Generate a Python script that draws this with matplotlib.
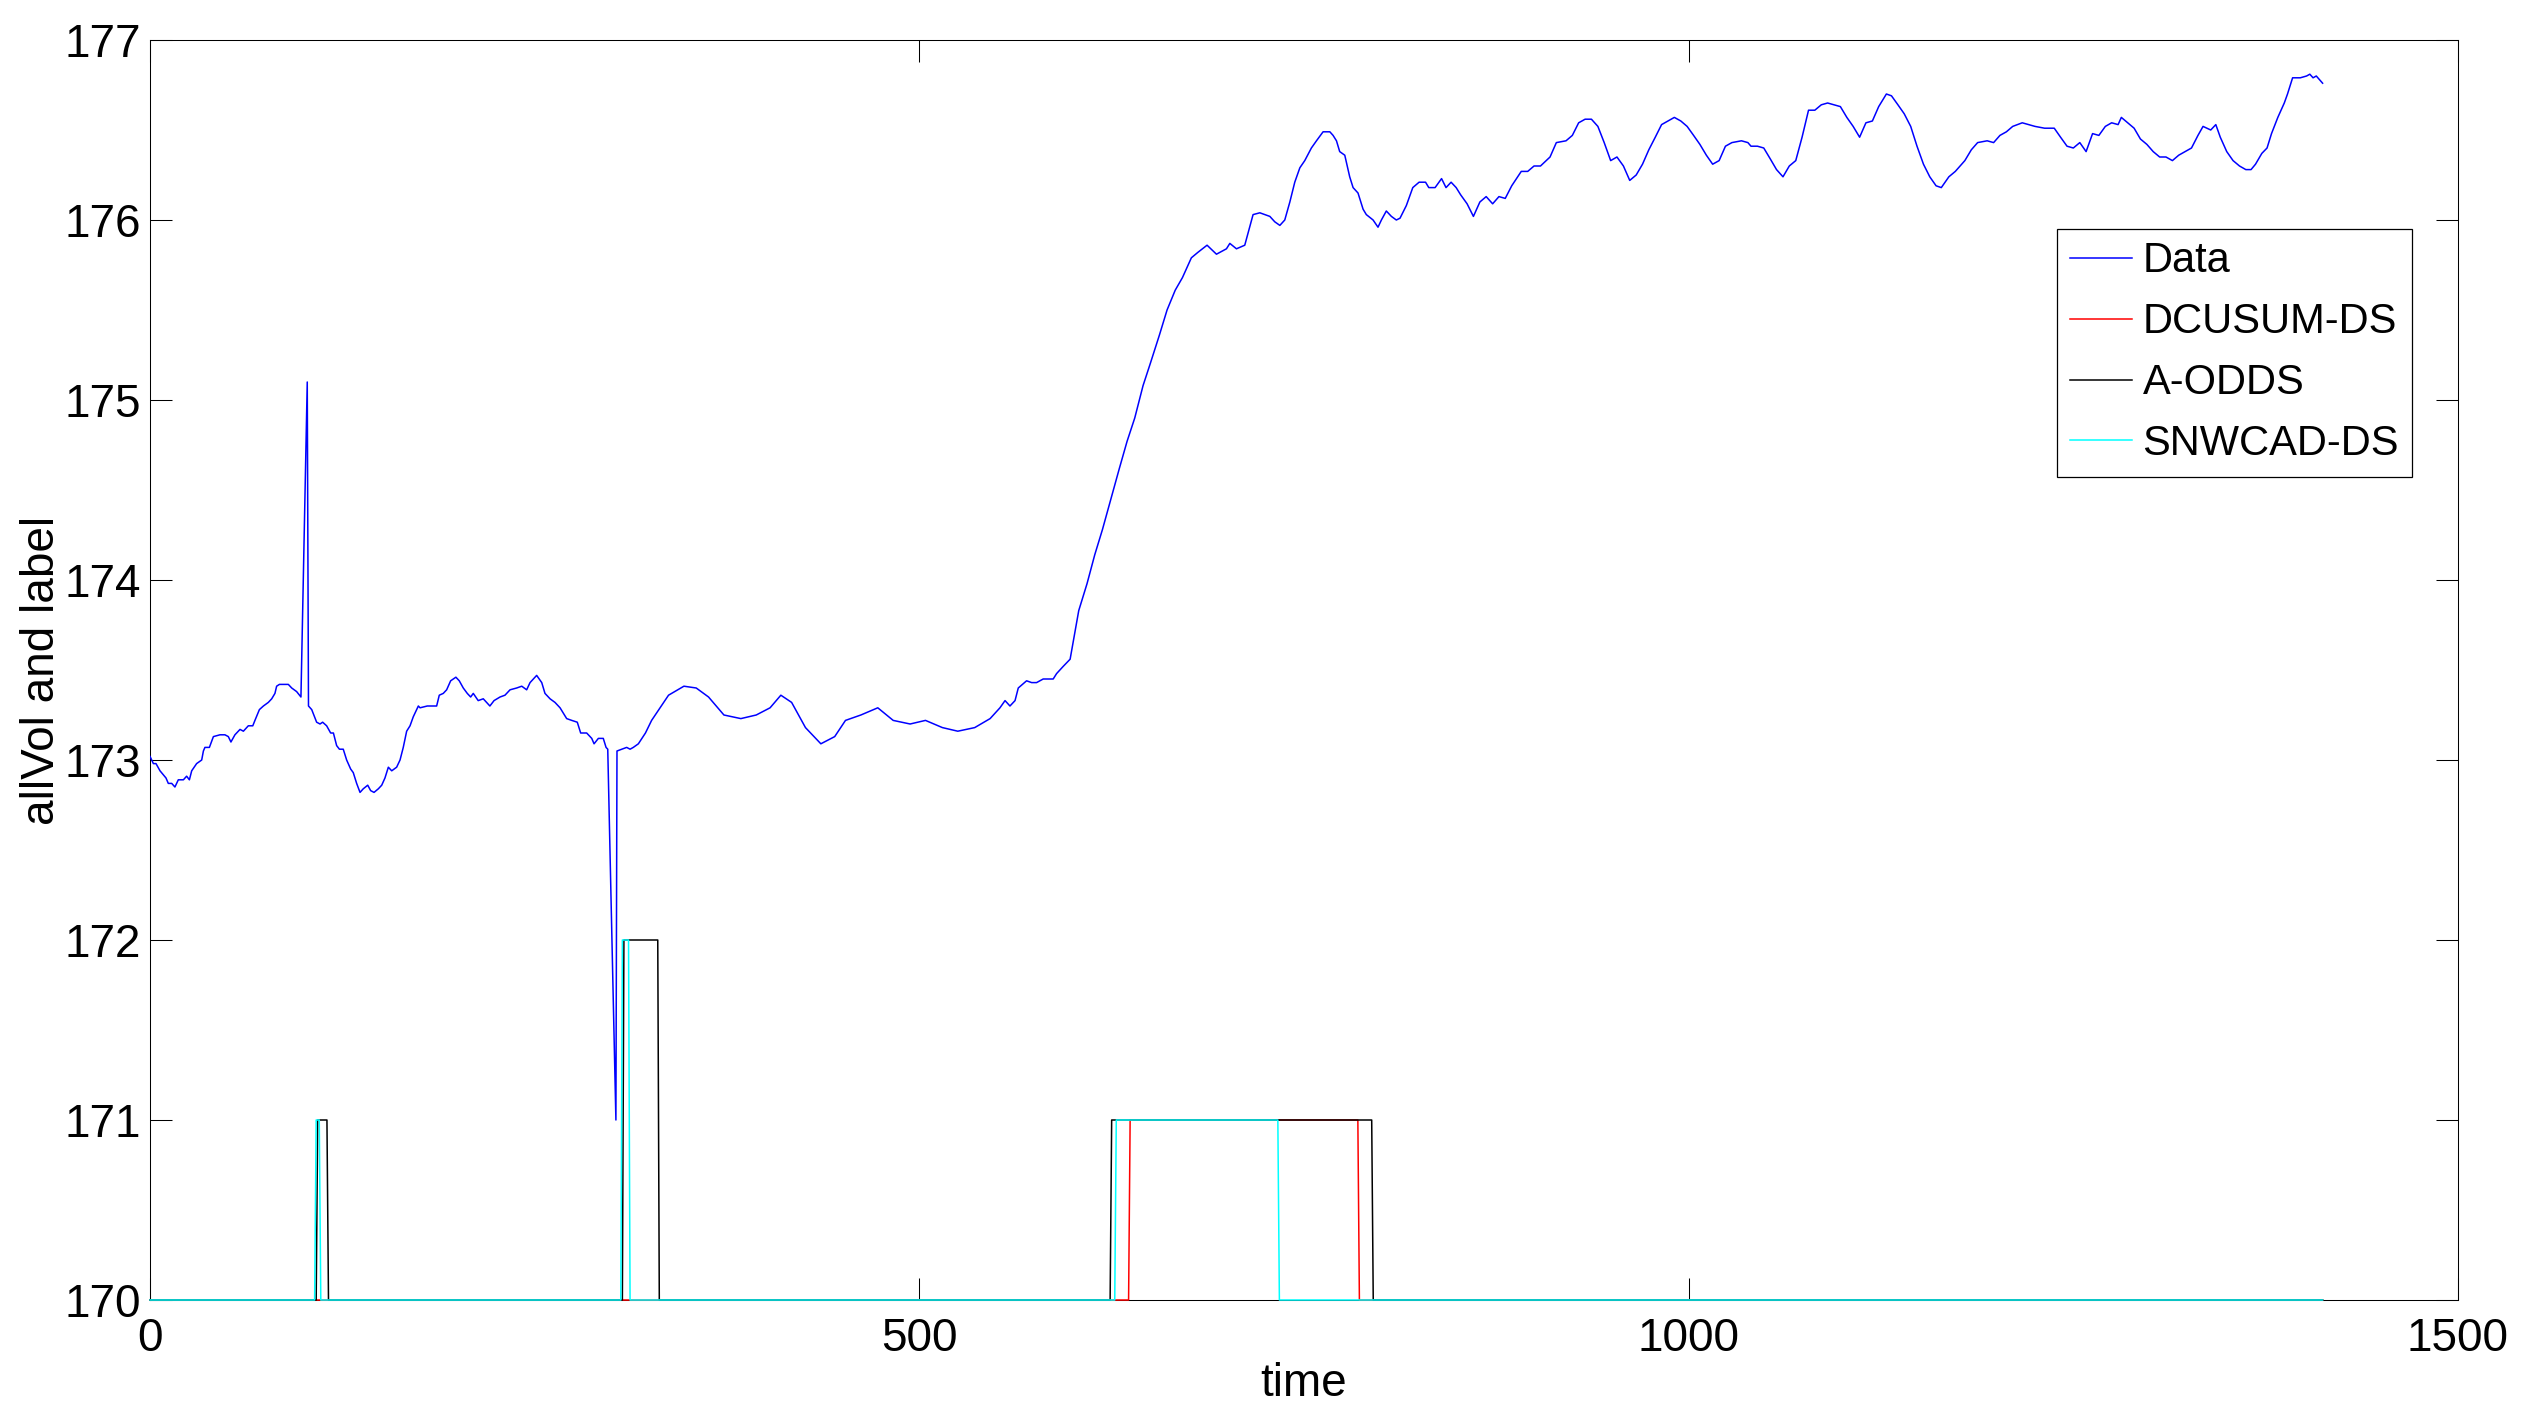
import matplotlib
matplotlib.use("Agg")
import matplotlib.pyplot as plt

plt.rcParams['font.family'] = ['Liberation Sans', 'DejaVu Sans']

# ---- Data series (time, value) ----
data_time = [
    0, 2.2, 3.9, 6.5, 10.4, 11.9, 14.1, 16.2, 18.4, 21.7, 23.8, 25.6, 27.1, 30.3, 33.6, 34.7, 35.7,
    38.6, 41.2, 45.5, 48.7, 50.9, 52.6, 55.2, 58.5, 60.7, 63.9, 66.8, 68.2, 71.1, 73.7, 76.9, 79.1,
    81.2, 82.3, 84.1, 89.9, 92.1, 95.3, 98.1, 102.2, 103.0, 105.1, 108.3, 110.5, 112.2, 114.8, 117.4,
    119.2, 121.3, 123.1, 125.6, 127.8, 130.4, 132.1, 134.3, 136.5, 138.6, 141.5, 143.4, 145.6, 148.4,
    150.6, 152.7, 154.9, 157.1, 160.3, 162.5, 164.6, 166.8, 169.0, 171.1, 174.4, 175.5, 180.2, 186.3,
    188.0, 190.6, 192.8, 195.4, 198.8, 201.0, 203.6, 206.2, 208.4, 210.1, 213.3, 216.6, 220.9, 223.6,
    227.5, 230.7, 234.0, 238.3, 241.6, 244.8, 247.0, 251.3, 254.6, 256.7, 260.0, 263.2, 266.5, 270.8,
    274.1, 277.7, 279.9, 283.8, 287.1, 288.6, 291.4, 294.6, 296.4, 297.5, 302.8, 303.5, 309.8, 312.0,
    314.1, 317.4,
    322, 326, 337, 347, 355, 363, 373, 384, 394, 403, 410, 417, 426, 436, 445, 452, 462, 473, 483,
    494, 504, 515, 525, 536, 546,
    552.4, 555.7, 558.9, 562.2, 564.3, 569.7, 573.0, 576.2, 580.5, 587.0, 589.2, 593.5, 598.0, 603.6,
    609.0, 614.0, 619.0, 624.5, 630.0, 635.0, 640.0, 645.4, 650.0, 656.0, 661.0, 666.3, 671.0, 676.8,
    681.0, 687.0, 693.1, 699.6, 701.8, 706.1, 711.5, 716.9, 721.3,
    727.8, 731.0, 734.3, 737.5, 740.8, 744.0, 747.3, 750.5, 754.8, 758.1, 762.4, 766.8, 768.9, 771.1,
    773.2, 776.5, 779.7, 781.9, 785.1, 788.4, 790.5, 794.9, 798.1, 800.3, 803.5, 806.8, 810.0,
    812.4, 816.5, 820.7, 824.8, 829.0, 831.1, 835.2, 839.4, 842.3, 845.6, 848.9, 851.8, 856.0, 860.1,
    864.3, 868.4, 872.6, 876.7, 880.8, 885.0, 891.2, 895.4, 899.5, 903.7, 909.9, 914.0, 920.3, 924.4,
    928.5, 932.7, 936.8, 941.0, 945.1, 949.3, 953.4, 957.6, 961.7, 965.9, 970.0, 974.1, 978.3, 982.4,
    986.6, 990.7, 994.9, 999.0, 1003.2, 1007.3, 1011.5, 1015.6, 1019.8, 1023.9, 1028.1, 1034.3,
    1038.5, 1040.5, 1044.7, 1048.8, 1053.0, 1057.1, 1061.3, 1065.4, 1069.6, 1073.7, 1077.9, 1082.0,
    1086.2, 1090.3, 1094.5, 1098.6, 1102.8, 1106.9, 1111.1, 1115.2, 1119.4, 1123.5, 1128.5, 1131.8,
    1136.0, 1140.1, 1144.3, 1148.4, 1152.6, 1156.7, 1160.8, 1164.2, 1169.1, 1173.3, 1179.5, 1183.7,
    1187.8, 1194.0, 1198.2, 1202.3, 1206.5, 1210.6, 1216.8, 1221.0, 1225.1, 1231.3, 1237.6, 1241.7,
    1245.9, 1250.0, 1254.2, 1258.3, 1262.5, 1266.6, 1270.8, 1274.9, 1279.1, 1281.2, 1285.3, 1289.5,
    1293.6, 1297.8, 1301.9, 1306.1, 1310.2, 1314.4, 1318.5, 1322.7, 1326.8, 1331.0, 1334.3, 1339.3,
    1342.6, 1345.5, 1349.7, 1353.8, 1358.0, 1362.1, 1365.5, 1368.4, 1372.5, 1375.9, 1378.8, 1382.9,
    1387.1, 1389.2, 1392.5, 1397.5, 1401.6, 1403.7, 1405.8, 1407.9, 1412.0,
]
data_value = [
    173.02, 172.98, 172.98, 172.94, 172.90, 172.87, 172.87, 172.85, 172.89, 172.89, 172.91, 172.89,
    172.94, 172.98, 173.00, 173.05, 173.07, 173.07, 173.13, 173.14, 173.14, 173.13, 173.10, 173.14,
    173.17, 173.16, 173.19, 173.19, 173.22, 173.28, 173.30, 173.32, 173.34, 173.37, 173.41, 173.42,
    173.42, 173.40, 173.38, 173.35, 175.10, 173.30, 173.28, 173.21, 173.20, 173.21, 173.19, 173.15,
    173.15, 173.08, 173.06, 173.06, 173.00, 172.95, 172.93, 172.87, 172.82, 172.84, 172.86, 172.83,
    172.82, 172.84, 172.86, 172.90, 172.96, 172.94, 172.96, 173.00, 173.07, 173.16, 173.19, 173.24,
    173.30, 173.29, 173.30, 173.30, 173.36, 173.37, 173.39, 173.44, 173.46, 173.44, 173.40, 173.37,
    173.35, 173.37, 173.33, 173.34, 173.30, 173.33, 173.35, 173.36, 173.39, 173.40, 173.41, 173.39,
    173.43, 173.47, 173.43, 173.37, 173.34, 173.32, 173.29, 173.23, 173.22, 173.21, 173.15, 173.15,
    173.12, 173.09, 173.12, 173.12, 173.07, 173.06, 171.00, 173.05, 173.07, 173.06, 173.07, 173.09,
    173.15, 173.22, 173.36, 173.41, 173.40, 173.35, 173.25, 173.23, 173.25, 173.29, 173.36, 173.32,
    173.18, 173.09, 173.13, 173.22, 173.25, 173.29, 173.22, 173.20, 173.22, 173.18, 173.16, 173.18,
    173.23,
    173.29, 173.33, 173.30, 173.33, 173.40, 173.44, 173.43, 173.43, 173.45, 173.45, 173.48, 173.52,
    173.56, 173.83, 173.98, 174.14, 174.28, 174.45, 174.62, 174.77, 174.90, 175.08, 175.20, 175.36,
    175.50, 175.61, 175.68, 175.79, 175.82, 175.86, 175.81,
    175.84, 175.87, 175.84, 175.86, 176.03, 176.04,
    176.02, 175.99, 175.97, 176.00, 176.10, 176.21,
    176.29, 176.33, 176.40, 176.44, 176.49, 176.49, 176.47, 176.44, 176.38, 176.36, 176.24, 176.18,
    176.15, 176.06, 176.03, 176.00, 175.96, 176.00, 176.05, 176.02, 176.00,
    176.01, 176.08, 176.18, 176.21, 176.21, 176.18, 176.18, 176.23, 176.18, 176.21, 176.18, 176.14,
    176.09, 176.02, 176.10, 176.13, 176.09, 176.13, 176.12, 176.19, 176.27, 176.27, 176.30, 176.30,
    176.35, 176.43, 176.44, 176.47, 176.54, 176.56, 176.56, 176.52, 176.43, 176.33, 176.35, 176.30,
    176.22, 176.25, 176.31, 176.39, 176.46, 176.53, 176.55, 176.57, 176.55, 176.52, 176.47, 176.42,
    176.36, 176.31, 176.33, 176.41, 176.43, 176.44, 176.43, 176.41, 176.41, 176.40, 176.34, 176.28,
    176.24, 176.30, 176.33, 176.46, 176.61, 176.61, 176.64, 176.65, 176.64, 176.63, 176.57, 176.52,
    176.46, 176.54, 176.55, 176.63, 176.70, 176.69, 176.64, 176.59, 176.52, 176.41, 176.31, 176.24,
    176.19, 176.18, 176.24, 176.27, 176.33, 176.39, 176.43, 176.44, 176.43, 176.47, 176.49, 176.52,
    176.54, 176.53, 176.52, 176.51, 176.51, 176.46, 176.41, 176.40, 176.43, 176.38, 176.48, 176.47,
    176.52, 176.54, 176.53, 176.57, 176.54, 176.51, 176.45, 176.42, 176.38, 176.35, 176.35, 176.33,
    176.36, 176.38, 176.40, 176.47, 176.52, 176.50, 176.53, 176.46, 176.38, 176.33, 176.30, 176.28,
    176.28, 176.31, 176.37, 176.40, 176.48, 176.57, 176.65, 176.70, 176.79, 176.79, 176.80, 176.81,
    176.79, 176.80, 176.76,
]

# ---- Detection label series (vertices of the step curves) ----
dcusum_time = [0, 636, 637, 785, 786, 1412]
dcusum_value = [170, 170, 171, 171, 170, 170]

aodds_time = [0, 108, 109, 115, 116, 307, 308, 330, 331, 624, 625, 794, 795, 1412]
aodds_value = [170, 170, 171, 171, 170, 170, 172, 172, 170, 170, 171, 171, 170, 170]

snwcad_time = [0, 107, 108, 110, 111, 306, 307, 311, 312, 627, 628, 733, 734, 1412]
snwcad_value = [170, 170, 171, 171, 170, 170, 172, 172, 170, 170, 171, 171, 170, 170]

x_ticks = [0, 500, 1000, 1500]
y_ticks = [170, 171, 172, 173, 174, 175, 176, 177]

W, H = 2523, 1404
fig = plt.figure(figsize=(W / 100, H / 100), dpi=100)
ax = fig.add_axes([150 / W, 1 - 1300 / H, 2308 / W, 1260 / H])

lw = 1.1
ax.plot(data_time, data_value, color=(0, 0, 1), lw=lw, label='Data', zorder=3)
ax.plot(dcusum_time, dcusum_value, color=(1, 0, 0), lw=lw, label='DCUSUM-DS', zorder=3, clip_on=False)
ax.plot(aodds_time, aodds_value, color=(0, 0, 0), lw=lw, label='A-ODDS', zorder=3, clip_on=False)
ax.plot(snwcad_time, snwcad_value, color=(0, 1, 1), lw=lw, label='SNWCAD-DS', zorder=3, clip_on=False)

ax.set_xlim(0, 1500)
ax.set_ylim(170, 177)
ax.set_xticks(x_ticks)
ax.set_yticks(y_ticks)
ax.tick_params(direction='in', length=16, width=0.75, top=True, right=True, labelsize=33)
ax.tick_params(axis='x', pad=12)
ax.tick_params(axis='y', pad=6.5)
for s in ax.spines.values():
    s.set_linewidth(0.75)

ax.set_xlabel('time', fontsize=33, labelpad=1)
ax.set_ylabel('allVol and label', fontsize=33, labelpad=0)

leg = ax.legend(loc='upper left', bbox_to_anchor=(0.8263, 0.85), borderaxespad=0,
                fontsize=30, handlelength=1.5, handletextpad=0.25, labelspacing=0.5,
                borderpad=0.3, fancybox=False, edgecolor='k', framealpha=1)
leg.get_frame().set_linewidth(0.9)
for line in leg.get_lines():
    line.set_linewidth(1.1)

fig.savefig('out.png', dpi=100)
